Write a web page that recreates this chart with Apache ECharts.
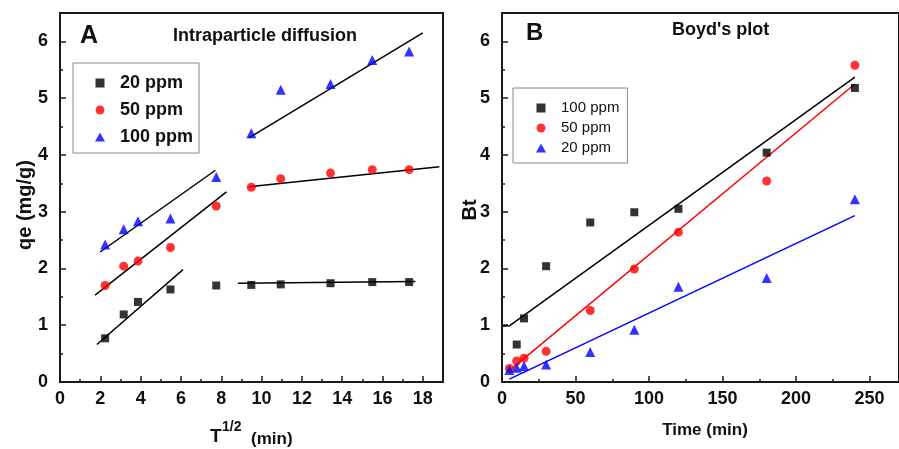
<!DOCTYPE html>
<html><head><meta charset="utf-8">
<script src="https://cdn.jsdelivr.net/npm/echarts@6/dist/echarts.min.js"></script>
<style>html,body{margin:0;padding:0;background:#fff}#c{width:899px;height:449px}</style>
</head><body><div id="c"></div>
<script>
// ---------- Panel A: intraparticle diffusion ----------
const sqrtT = [2.24, 3.16, 3.87, 5.48, 7.75, 9.49, 10.95, 13.42, 15.49, 17.32];
const qe20  = [0.77, 1.19, 1.41, 1.63, 1.70, 1.71, 1.72, 1.74, 1.76, 1.76];
const qe50  = [1.70, 2.04, 2.13, 2.37, 3.10, 3.43, 3.58, 3.68, 3.74, 3.74];
const qe100 = [2.42, 2.69, 2.83, 2.88, 3.61, 4.38, 5.15, 5.25, 5.67, 5.82];
// fitted segments (endpoints)
const fit20aX = [1.83, 6.10],  fit20aY = [0.66, 1.98];
const fit20bX = [8.82, 17.63], fit20bY = [1.74, 1.77];
const fit50aX = [1.74, 8.26],  fit50aY = [1.53, 3.35];
const fit50bX = [9.37, 18.82], fit50bY = [3.44, 3.79];
const fit100aX = [1.99, 7.71], fit100aY = [2.29, 3.73];
const fit100bX = [9.37, 18.00], fit100bY = [4.30, 6.15];
const aXMajor = [0, 2, 4, 6, 8, 10, 12, 14, 16, 18];
const aXMinor = [1, 3, 5, 7, 9, 11, 13, 15, 17];

// ---------- Panel B: Boyd's plot ----------
const timeMin = [5, 10, 15, 30, 60, 90, 120, 180, 240];
const bt100 = [null, 0.66, 1.12, 2.04, 2.81, 2.99, 3.05, 4.04, 5.18];
const bt50  = [0.24, 0.37, 0.42, 0.54, 1.26, 1.99, 2.64, 3.54, 5.58];
const bt20  = [0.21, 0.25, 0.28, 0.31, 0.53, 0.92, 1.68, 1.83, 3.22];
const fitB100X = [0, 5, 240], fitB100Y = [0.98, 0.99, 5.37];
const fitB50X = [5, 240],     fitB50Y = [0.20, 5.25];
const fitB20X = [5, 240],     fitB20Y = [0.05, 2.93];
const bXMajor = [0, 50, 100, 150, 200, 250];
const bXMinor = [25, 75, 125, 175, 225];

const yMajor = [0, 1, 2, 3, 4, 5, 6];
const yMinor = [0.5, 1.5, 2.5, 3.5, 4.5, 5.5];

const FONT = '"Liberation Sans", Arial, Helvetica, sans-serif';
const AXC = '#1a1a1a';

const ICON_SQUARE = 'path://M0,0L1,0L1,1L0,1Z';
const ICON_CIRCLE = 'path://M1,0.5A0.5,0.5,0,1,1,0,0.5A0.5,0.5,0,1,1,1,0.5Z';
const ICON_TRI = 'path://M0.5,0L1,0.9L0,0.9Z';

function pairs(xs, ys) {
  const out = [];
  for (let i = 0; i < xs.length; i++) if (ys[i] != null) out.push([xs[i], ys[i]]);
  return out;
}

function axisPair(dim, gridIndex, min, max, major, minor) {
  const pos = dim === 'x' ? 'bottom' : 'left';
  const main = {
    type: 'value', gridIndex, min, max, position: pos,
    splitLine: { show: false },
    axisLine: { show: true, onZero: false, lineStyle: { color: AXC, width: 2 } },
    axisTick: { show: true, inside: true, length: 6, customValues: major, lineStyle: { color: AXC, width: 1.5 } },
    axisLabel: { show: true, customValues: major, margin: dim === 'x' ? 8 : 12,
      color: '#111', fontFamily: FONT, fontWeight: 'bold', fontSize: 18 }
  };
  const minorAx = {
    type: 'value', gridIndex, min, max, position: pos,
    splitLine: { show: false },
    axisLine: { show: false, onZero: false },
    axisTick: { show: true, inside: true, length: 3, customValues: minor, lineStyle: { color: AXC, width: 1.5 } },
    axisLabel: { show: false }
  };
  return [main, minorAx];
}

function scatter(name, xi, yi, data, symbol, size, color) {
  return { type: 'scatter', name, xAxisIndex: xi, yAxisIndex: yi, data, symbol, symbolSize: size,
    itemStyle: { color }, z: 3, silent: true };
}
function fit(xi, yi, xs, ys, color) {
  return { type: 'line', name: 'fit', xAxisIndex: xi, yAxisIndex: yi, data: pairs(xs, ys),
    symbol: 'none', lineStyle: { color, width: 1.5 }, z: 2, silent: true, animation: false };
}

const bNames = { B100: '100 ppm', B50: '50 ppm', B20: '20 ppm' };

const option = {
  animation: false,
  grid: [
    { left: 60, top: 13, width: 383, height: 369, show: true, borderColor: AXC, borderWidth: 2, backgroundColor: 'transparent' },
    { left: 502, top: 13, width: 398.5, height: 369, show: true, borderColor: AXC, borderWidth: 2, backgroundColor: 'transparent' }
  ],
  xAxis: [].concat(axisPair('x', 0, 0, 19, aXMajor, aXMinor), axisPair('x', 1, 0, 270, bXMajor, bXMinor)),
  yAxis: [].concat(axisPair('y', 0, 0, 6.5, yMajor, yMinor), axisPair('y', 1, 0, 6.5, yMajor, yMinor)),
  legend: [
    { data: [{ name: '20 ppm', icon: ICON_SQUARE }, { name: '50 ppm', icon: ICON_CIRCLE }, { name: '100 ppm', icon: ICON_TRI }],
      orient: 'vertical', left: 73, top: 63, symbolKeepAspect: true,
      padding: [11, 6, 7, 22], itemWidth: 30, itemHeight: 9, itemGap: 9, selectedMode: false,
      borderColor: '#888', borderWidth: 1,
      textStyle: { fontFamily: FONT, fontWeight: 'bold', fontSize: 18, lineHeight: 18, color: '#111' } },
    { data: [{ name: 'B100', icon: ICON_SQUARE }, { name: 'B50', icon: ICON_CIRCLE }, { name: 'B20', icon: ICON_TRI }],
      orient: 'vertical', left: 513, top: 88, symbolKeepAspect: true,
      padding: [12, 8, 7, 23], itemWidth: 30, itemHeight: 9, itemGap: 4, selectedMode: false,
      borderColor: '#888', borderWidth: 1, formatter: n => bNames[n],
      textStyle: { fontFamily: FONT, fontSize: 15, lineHeight: 16, color: '#111' } }
  ],
  series: [
    fit(0, 0, fit20aX, fit20aY, '#000'),
    fit(0, 0, fit20bX, fit20bY, '#000'),
    fit(0, 0, fit50aX, fit50aY, '#000'),
    fit(0, 0, fit50bX, fit50bY, '#000'),
    fit(0, 0, fit100aX, fit100aY, '#000'),
    fit(0, 0, fit100bX, fit100bY, '#000'),
    scatter('20 ppm', 0, 0, pairs(sqrtT, qe20), 'rect', 8, '#000'),
    scatter('50 ppm', 0, 0, pairs(sqrtT, qe50), 'circle', 9, '#ff0000'),
    scatter('100 ppm', 0, 0, pairs(sqrtT, qe100), 'triangle', 10, '#0000ff'),

    fit(2, 2, fitB20X, fitB20Y, '#0000ff'),
    fit(2, 2, fitB50X, fitB50Y, '#ff0000'),
    fit(2, 2, fitB100X, fitB100Y, '#000'),
    scatter('B100', 2, 2, pairs(timeMin, bt100), 'rect', 8, '#000'),
    scatter('B50', 2, 2, pairs(timeMin, bt50), 'circle', 9, '#ff0000'),
    scatter('B20', 2, 2, pairs(timeMin, bt20), 'triangle', 10, '#0000ff')
  ],
  graphic: [
    { type: 'text', x: 80, y: 36.5, style: { text: 'A', font: 'bold 25px ' + FONT, fill: '#111', align: 'left', verticalAlign: 'middle' } },
    { type: 'text', x: 173, y: 36.3, style: { text: 'Intraparticle diffusion', font: 'bold 18px ' + FONT, fill: '#111', align: 'left', verticalAlign: 'middle' } },
    { type: 'text', x: 526, y: 33, style: { text: 'B', font: 'bold 24px ' + FONT, fill: '#111', align: 'left', verticalAlign: 'middle' } },
    { type: 'text', x: 672, y: 30.3, style: { text: "Boyd's plot", font: 'bold 18px ' + FONT, fill: '#111', align: 'left', verticalAlign: 'middle' } },
    { type: 'text', x: 25, y: 205, rotation: Math.PI / 2, style: { text: 'qe (mg/g)', font: 'bold 20px ' + FONT, fill: '#111', align: 'center', verticalAlign: 'middle' } },
    { type: 'text', x: 470.5, y: 210, rotation: Math.PI / 2, style: { text: 'Bt', font: 'bold 20px ' + FONT, fill: '#111', align: 'center', verticalAlign: 'middle' } },
    { type: 'text', x: 210, y: 436.7, style: { text: 'T', font: 'bold 19px ' + FONT, fill: '#111', align: 'left', verticalAlign: 'middle' } },
    { type: 'text', x: 222, y: 427.5, style: { text: '1/2', font: 'bold 14px ' + FONT, fill: '#111', align: 'left', verticalAlign: 'middle' } },
    { type: 'text', x: 251, y: 439, style: { text: '(min)', font: 'bold 17px ' + FONT, fill: '#111', align: 'left', verticalAlign: 'middle' } },
    { type: 'text', x: 705, y: 430, style: { text: 'Time (min)', font: 'bold 17px ' + FONT, fill: '#111', align: 'center', verticalAlign: 'middle' } }
  ]
};

const chart = echarts.init(document.getElementById('c'), null, { renderer: 'canvas' });
chart.setOption(option);
</script>
</body></html>
